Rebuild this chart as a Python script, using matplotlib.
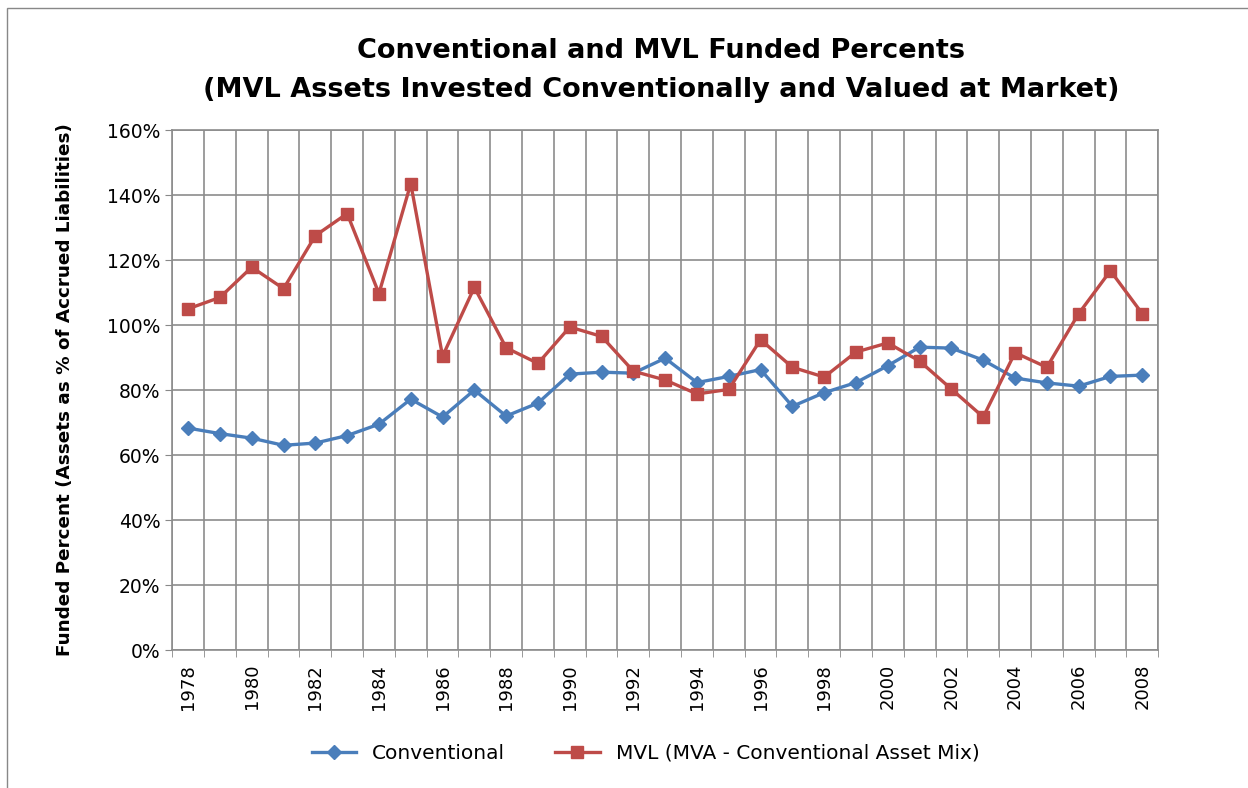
import numpy as np
import matplotlib
matplotlib.use("Agg")
from matplotlib import pyplot as plt
from matplotlib.ticker import FuncFormatter, FixedLocator
from matplotlib.patches import Rectangle

years = list(range(1978, 2009))
conventional = [68.3, 66.6, 65.2, 63.0, 63.7, 66.0, 69.5, 77.2, 71.7, 80.0, 72.0,
                76.0, 84.9, 85.5, 85.2, 89.8, 82.3, 84.2, 86.3, 75.0, 79.2,
                82.3, 87.5, 93.2, 92.9, 89.2, 83.7, 82.2, 81.2, 84.2, 84.6]
mvl = [105.0, 108.5, 117.8, 111.2, 127.5, 134.3, 109.7, 143.5, 90.4, 111.6, 93.0,
       88.2, 99.4, 96.5, 85.8, 83.1, 78.8, 80.2, 95.5, 87.0, 84.0,
       91.7, 94.5, 88.9, 80.3, 71.7, 91.5, 87.0, 103.5, 116.7, 103.5]

blue = '#4a7ebb'
red = '#be4b48'

fig = plt.figure(figsize=(12.48, 7.88), dpi=100)
fig.patches.append(Rectangle((0.006, -0.01), 1.2, 1.0, transform=fig.transFigure,
                             fill=False, edgecolor='#888888', linewidth=1))
ax = fig.add_axes([0.138, 0.175, 0.79, 0.66])

x = np.arange(len(years))
ax.plot(x, conventional, color=blue, lw=2.4, marker='D', ms=7, label='Conventional', zorder=3)
ax.plot(x, mvl, color=red, lw=2.4, marker='s', ms=8.5,
        label='MVL (MVA - Conventional Asset Mix)', zorder=3)

ax.set_xlim(-0.5, len(years) - 0.5)
ax.set_ylim(0, 160)
ax.set_yticks(np.arange(0, 161, 20))
ax.yaxis.set_major_formatter(FuncFormatter(lambda v, p: '%d%%' % v))
ax.set_xticks(x[::2])
ax.set_xticklabels([str(y) for y in years[::2]], rotation=90, fontsize=13)
ax.xaxis.set_minor_locator(FixedLocator(np.arange(-0.5, len(years), 1)))
ax.tick_params(axis='x', which='major', length=0, pad=10)
ax.tick_params(axis='x', which='minor', length=5, color='#888888')
ax.tick_params(axis='y', length=5, color='#888888', labelsize=13.5)
ax.grid(which='minor', axis='x', color='#8c8c8c', lw=1.2)
ax.grid(which='major', axis='y', color='#8c8c8c', lw=1.2)
for s in ax.spines.values():
    s.set_color('#8c8c8c')
    s.set_linewidth(1.2)

ax.set_ylabel('Funded Percent (Assets as % of Accrued Liabilities)', fontsize=13.2,
              fontweight='bold', labelpad=24)
fig.suptitle('Conventional and MVL Funded Percents\n(MVL Assets Invested Conventionally and Valued at Market)',
             fontsize=19.5, fontweight='bold', x=0.53, y=0.952, linespacing=1.65)

ax.legend(loc='upper center', bbox_to_anchor=(0.48, -0.145), ncol=2, frameon=False,
          fontsize=14.5, handlelength=2.2, columnspacing=2.5)

fig.savefig('out.png', dpi=100)
